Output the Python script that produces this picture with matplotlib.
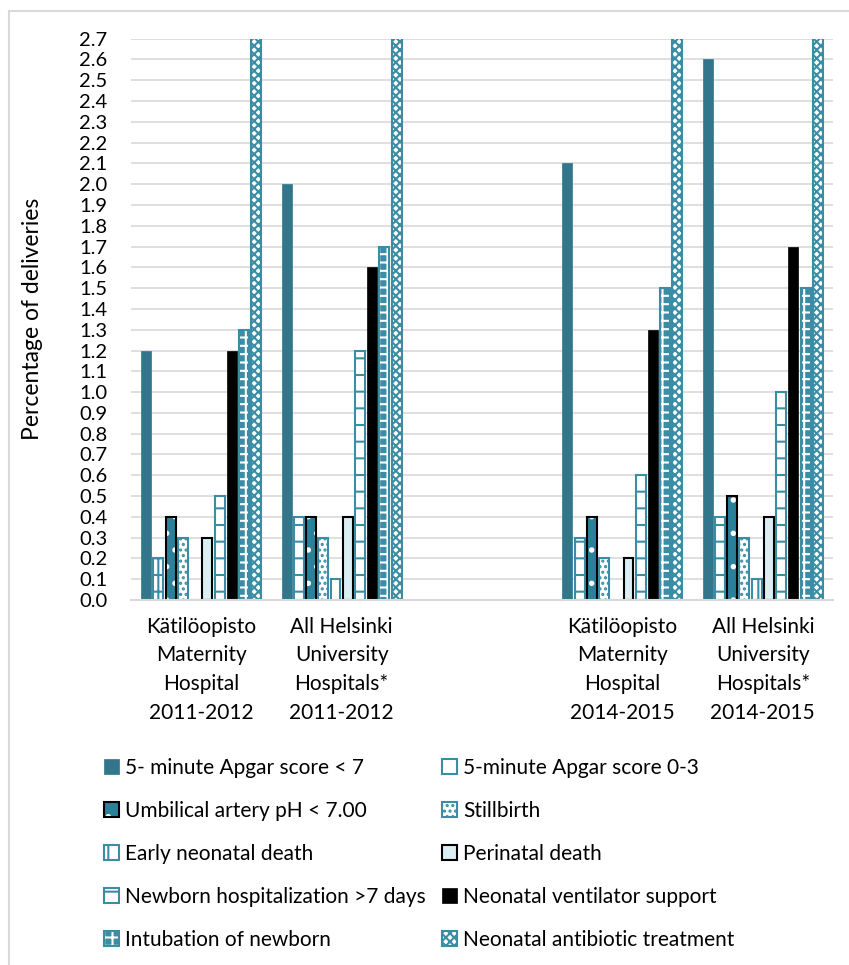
import matplotlib
matplotlib.use("Agg")
import matplotlib.pyplot as plt
from matplotlib.patches import Patch, Rectangle
import numpy as np

# Data (percentage of deliveries)
groups = [
    "Kätilöopisto\nMaternity\nHospital\n2011-2012",
    "All Helsinki\nUniversity\nHospitals*\n2011-2012",
    "Kätilöopisto\nMaternity\nHospital\n2014-2015",
    "All Helsinki\nUniversity\nHospitals*\n2014-2015",
]
group_slots = [0, 1, 3, 4]  # slot 2 is an empty category in the original

series_names = [
    "5- minute Apgar score < 7",
    "5-minute Apgar score 0-3",
    "Umbilical artery pH < 7.00",
    "Stillbirth",
    "Early neonatal death",
    "Perinatal death",
    "Newborn hospitalization >7 days",
    "Neonatal ventilator support",
    "Intubation of newborn",
    "Neonatal antibiotic treatment",
]

apgar_lt7 = [1.2, 2.0, 2.1, 2.6]
apgar_0_3 = [0.2, 0.4, 0.3, 0.4]
ph_lt7 = [0.4, 0.4, 0.4, 0.5]
stillbirth = [0.3, 0.3, 0.2, 0.3]
early_death = [0.0, 0.1, 0.0, 0.1]
perinatal = [0.3, 0.4, 0.2, 0.4]
hospitalization = [0.5, 1.2, 0.6, 1.0]
ventilator = [1.2, 1.6, 1.3, 1.7]
intubation = [1.3, 1.7, 1.5, 1.5]
antibiotic = [3.5, 3.5, 3.5, 3.5]  # off the scale in the original (clipped at 2.7)

series_values = [apgar_lt7, apgar_0_3, ph_lt7, stillbirth, early_death,
                 perinatal, hospitalization, ventilator, intubation, antibiotic]

dark_teal = "#31768A"
teal = "#3B8DA5"
ph_fill = "#2A8199"
light_blue = "#DBEEF4"

# Style of each series: list of layers (facecolor, edgecolor, hatch, linewidth)
styles = [
    [(dark_teal, dark_teal, None, 0.5)],
    [("white", teal, "+", 1.5)],
    [(ph_fill, "white", ".", 0), ("none", "black", None, 1.5)],
    [("white", teal, "...", 1.5)],
    [("white", teal, "|", 1.5)],
    [(light_blue, "black", None, 1.5)],
    [("white", teal, "-", 1.5)],
    [("black", "black", None, 0.5)],
    [(teal, "white", "++", 0), ("none", teal, None, 1.5)],
    [("white", teal, "xxxx", 1.5)],
]

plt.rcParams["font.family"] = ["Lato", "DejaVu Sans"]
plt.rcParams["hatch.linewidth"] = 1.5

fig = plt.figure(figsize=(8.49, 9.65), dpi=100)
ax = fig.add_axes([131 / 849, 1 - 600 / 965, 702 / 849, (600 - 38.7) / 965])

# Grey frame around the chart area
fig.patches.append(Rectangle((9 / 849, -0.1), 1.2, 0.1 + (965 - 11) / 965,
                             transform=fig.transFigure, fill=False,
                             edgecolor="#D9D9D9", linewidth=1.5))

n = len(series_names)
pitch = 0.087
width = 0.071
x = np.array(group_slots, dtype=float)

legend_handles = []
for i, (vals, layers) in enumerate(zip(series_values, styles)):
    offs = (i - (n - 1) / 2) * pitch
    handle_parts = []
    for fc, ec, hatch, lw in layers:
        ax.bar(x + offs, vals, width=width, color=fc, edgecolor=ec,
               hatch=hatch, linewidth=lw, zorder=3)
        handle_parts.append(Patch(facecolor=fc, edgecolor=ec, hatch=hatch,
                                  linewidth=lw))
    legend_handles.append(tuple(handle_parts) if len(handle_parts) > 1
                          else handle_parts[0])

ax.set_xlim(-0.5, 4.5)
ax.set_ylim(0, 2.7)
ax.set_yticks(np.round(np.arange(0, 2.71, 0.1), 1))
ax.set_yticklabels([f"{v:.1f}" for v in np.arange(0, 2.71, 0.1)])
ax.set_xticks(x)
ax.set_xticklabels(groups, linespacing=1.55)
ax.tick_params(axis="y", length=0, pad=17, labelsize=14.5)
ax.tick_params(axis="x", length=0, pad=12, labelsize=15)

ax.grid(axis="y", color="#D9D9D9", linewidth=1.2, zorder=0)
for side in ["left", "right", "top"]:
    ax.spines[side].set_visible(False)
ax.spines["bottom"].set_color("#D9D9D9")
ax.spines["bottom"].set_linewidth(1.5)
ax.spines["bottom"].set_zorder(4)

ax.set_ylabel("Percentage of deliveries", fontsize=16.5)
ax.yaxis.set_label_coords(-0.125, 0.5)

# Legend laid out row by row like the original (two columns)
order = [0, 2, 4, 6, 8, 1, 3, 5, 7, 9]
fig.legend([legend_handles[k] for k in order],
           [series_names[k] for k in order],
           ncol=2, loc="upper left", bbox_to_anchor=(104 / 849, 1 - 758 / 965),
           frameon=False, fontsize=15, handlelength=0.7, handleheight=0.7,
           handletextpad=0.3, columnspacing=0.8, labelspacing=1.1,
           borderaxespad=0, borderpad=0)

fig.savefig("out.png", dpi=100)
